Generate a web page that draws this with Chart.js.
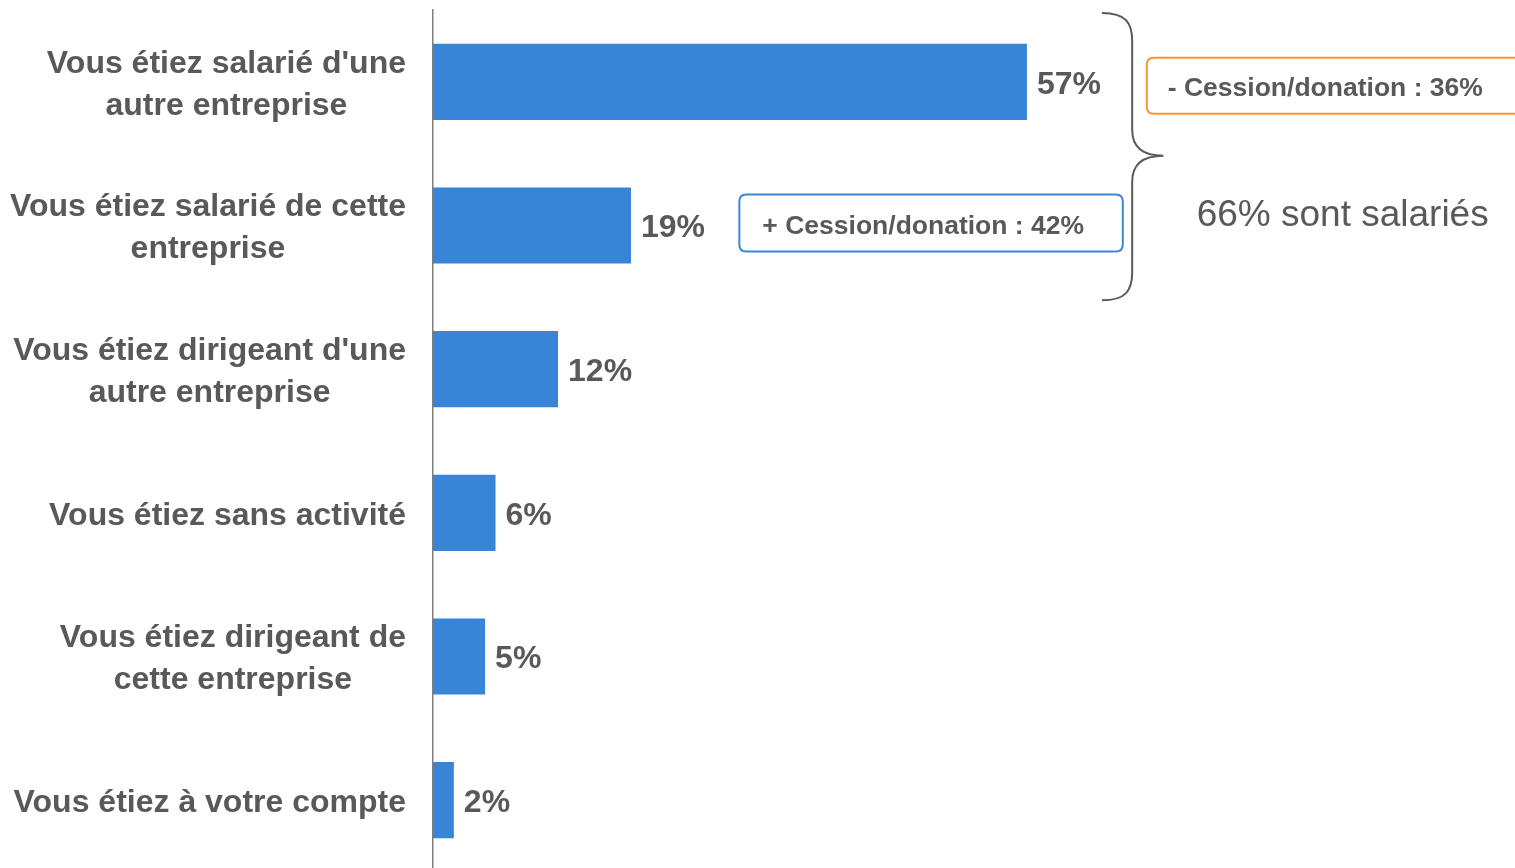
<!DOCTYPE html>
<html>
<head>
<meta charset="utf-8">
<script src="https://cdn.jsdelivr.net/npm/chart.js@4/dist/chart.umd.min.js"></script>
<style>
html,body{margin:0;padding:0;background:#fff;overflow:hidden;}
#wrap{position:relative;width:1515px;height:872px;}
</style>
</head>
<body>
<div id="wrap"><canvas id="c"></canvas></div>
<script>
const categories = [
  ["Vous étiez salarié d'une", "autre entreprise"],
  ["Vous étiez salarié de cette", "entreprise"],
  ["Vous étiez dirigeant d'une", "autre entreprise"],
  ["Vous étiez sans activité"],
  ["Vous étiez dirigeant de", "cette entreprise"],
  ["Vous étiez à votre compte"]
];
const values = [57, 19, 12, 6, 5, 2];
const valueLabels = ["57%", "19%", "12%", "6%", "5%", "2%"];
const boxSalarieCette = "+ Cession/donation : 42%";
const boxSalarieAutre = "- Cession/donation : 36%";
const braceText = "66% sont salariés";

const TEXT = '#595959';
const FONT = '"Liberation Sans", Arial, sans-serif';
const DY = 2;

function roundRect(ctx, x, y, w, h, r) {
  ctx.beginPath();
  ctx.moveTo(x + r, y);
  ctx.lineTo(x + w - r, y);
  ctx.quadraticCurveTo(x + w, y, x + w, y + r);
  ctx.lineTo(x + w, y + h - r);
  ctx.quadraticCurveTo(x + w, y + h, x + w - r, y + h);
  ctx.lineTo(x + r, y + h);
  ctx.quadraticCurveTo(x, y + h, x, y + h - r);
  ctx.lineTo(x, y + r);
  ctx.quadraticCurveTo(x, y, x + r, y);
  ctx.closePath();
}

const decor = {
  id: 'decor',
  afterDatasetsDraw(chart) {
    const ctx = chart.ctx;
    const xs = chart.scales.x, ys = chart.scales.y;
    const meta = chart.getDatasetMeta(0);
    ctx.save();
    // value labels
    ctx.fillStyle = TEXT;
    ctx.font = 'bold 32px ' + FONT;
    ctx.textAlign = 'left';
    ctx.textBaseline = 'middle';
    meta.data.forEach((bar, i) => {
      ctx.fillText(valueLabels[i], bar.x + 10, bar.y + 1 + DY);
    });
    // category labels: block right-aligned, lines centered
    const labelRight = xs.left - 27;
    const lh = 42;
    categories.forEach((lines, i) => {
      const cy = ys.getPixelForValue(i);
      let w = 0;
      lines.forEach(l => { w = Math.max(w, ctx.measureText(l).width); });
      const cx = labelRight - w / 2;
      ctx.textAlign = 'center';
      lines.forEach((l, k) => {
        const y = cy + (k - (lines.length - 1) / 2) * lh + 1 + DY;
        ctx.fillText(l, cx, y);
      });
    });

    const band = ys.getPixelForValue(1) - ys.getPixelForValue(0);
    const c0 = ys.getPixelForValue(0), c1 = ys.getPixelForValue(1);

    // blue box
    ctx.lineWidth = 2;
    ctx.strokeStyle = '#3F86D8';
    const bx1 = xs.getPixelForValue(29.4), bx2 = xs.getPixelForValue(66.2);
    roundRect(ctx, bx1, c1 - 31, bx2 - bx1, 57, 7);
    ctx.stroke();
    ctx.font = 'bold 26.5px ' + FONT;
    ctx.textAlign = 'left';
    ctx.fillText(boxSalarieCette, bx1 + 23, c1 - 1 + DY);

    // orange box
    ctx.strokeStyle = '#F7982F';
    const ox1 = xs.getPixelForValue(68.5);
    roundRect(ctx, ox1, c0 - 24, 1530 - ox1, 56, 7);
    ctx.stroke();
    ctx.fillText(boxSalarieAutre, ox1 + 21, c0 + 5 + DY);

    // brace
    const x0 = xs.getPixelForValue(64.2), xm = xs.getPixelForValue(67.1), xt = xs.getPixelForValue(70.1);
    const yTop = c0 - band / 2 + 3, yMid = c0 + band / 2 + 2, yBot = c1 + band / 2 + 3;
    ctx.strokeStyle = '#5a5a5a';
    ctx.lineWidth = 2;
    ctx.beginPath();
    ctx.moveTo(x0, yTop);
    ctx.bezierCurveTo(x0 + 24, yTop, xm, yTop + 10, xm, yTop + 28);
    ctx.lineTo(xm, yMid - 26);
    ctx.bezierCurveTo(xm, yMid - 8, xm + 12, yMid, xt, yMid);
    ctx.bezierCurveTo(xm + 12, yMid, xm, yMid + 8, xm, yMid + 26);
    ctx.lineTo(xm, yBot - 28);
    ctx.bezierCurveTo(xm, yBot - 10, x0 + 24, yBot, x0, yBot);
    ctx.stroke();

    // brace text
    ctx.font = '37px ' + FONT;
    ctx.textAlign = 'center';
    ctx.fillText(braceText, xs.getPixelForValue(87.3), c1 - 12 + DY);
    ctx.restore();
  }
};

new Chart(document.getElementById('c'), {
  type: 'bar',
  data: {
    labels: categories,
    datasets: [{
      data: values,
      backgroundColor: '#3884D6',
      borderWidth: 0,
      barPercentage: 0.53,
      categoryPercentage: 1
    }]
  },
  options: {
    indexAxis: 'y',
    responsive: true,
    maintainAspectRatio: false,
    animation: false,
    layout: { padding: { top: 10, right: 40, bottom: 0, left: 0 } },
    plugins: { legend: { display: false }, tooltip: { enabled: false } },
    scales: {
      x: { display: false, min: 0, max: 100 },
      y: {
        grid: { display: false, drawTicks: false },
        border: { display: true, color: '#7f7f7f', width: 1.5 },
        ticks: { display: false },
        afterFit(scale) { scale.width = 433; }
      }
    }
  },
  plugins: [decor]
});
</script>
</body>
</html>
